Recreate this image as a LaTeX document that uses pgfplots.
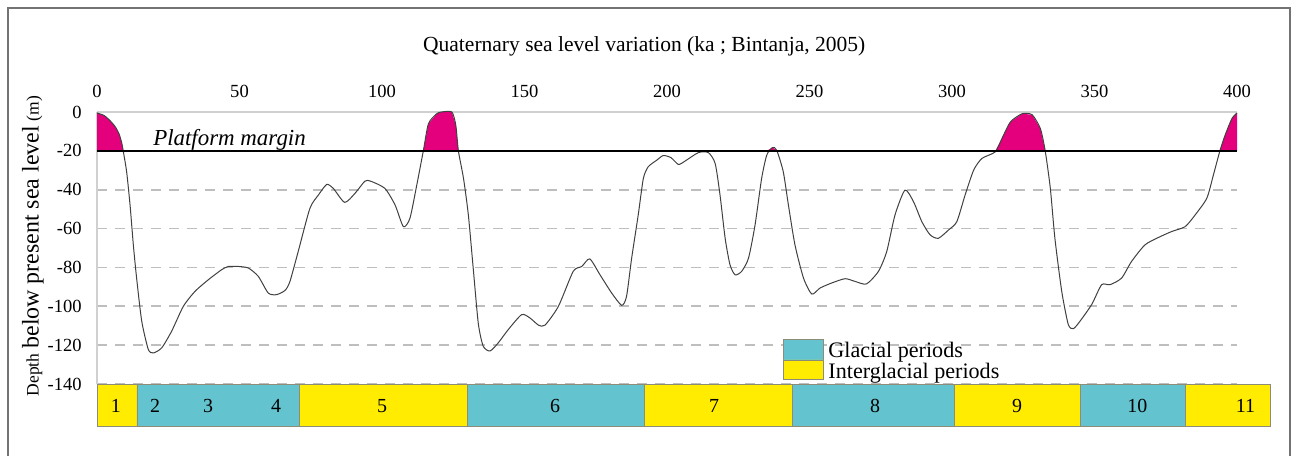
\documentclass[border=0pt]{standalone}
\usepackage{fontspec}
\setmainfont{Liberation Serif}
\usepackage{pgfplots}
\usepackage{pgfplotstable}
\pgfplotsset{compat=1.18}

\definecolor{magentac}{RGB}{228,0,124}
\definecolor{cyanc}{RGB}{99,195,207}
\definecolor{yellowc}{RGB}{255,236,0}
\definecolor{gridc}{RGB}{190,190,190}
\definecolor{axisc}{RGB}{208,208,208}
\definecolor{edgec}{RGB}{140,140,120}

% sea level (m) against age (ka), read off Bintanja (2005) curve
\pgfplotstableread{
ka m
0 -0.5
2.5 -1.8
4.6 -4.5
6.5 -7.8
7.8 -11.5
8.7 -16
9.2 -20
10.4 -30.8
11.6 -47.9
12.75 -68.4
13.9 -85.5
15.7 -107.7
18.0 -122.2
19.8 -124
22.7 -121.4
26.2 -112.8
30.3 -100
34.4 -92.3
39.1 -86.3
43.7 -81.2
46.1 -79.5
49.6 -79.5
53.1 -80.3
56.6 -84.6
60.1 -93.2
63.0 -94
66.0 -91.8
67.7 -87.2
70.6 -71.8
74.7 -49.6
77.7 -42.7
80.6 -37.3
82.9 -39.3
86.9 -46.5
90.5 -41.9
94.0 -35.6
96.0 -35.6
101.0 -39.3
104.6 -47.9
107.5 -59
109.8 -54.7
112.2 -37.6
114.5 -20
116.3 -6
119.2 -0.9
120.9 0
124.5 0
125.9 -6.8
126.8 -20
128.6 -34.2
130.3 -53
132.1 -82
133.8 -109
135.5 -120.5
137.9 -123
140.8 -118.8
144.3 -112
149.0 -104.3
151.9 -106
154.9 -109.7
157.2 -109.7
161.9 -100
167.1 -82
170.1 -79.5
172.9 -75.6
176.5 -83.8
180.6 -93.2
184.1 -99.5
185.8 -94.9
187.6 -75.2
189.9 -53
191.7 -34.2
193.4 -28.2
196.4 -24.8
198.7 -22.4
201.4 -23.5
204.0 -27
206.3 -25.3
211.0 -20.9
214.5 -20.9
216.9 -26.5
218.6 -42.7
220.4 -65
222.1 -78.6
223.9 -83.8
226.2 -82
228.6 -75.2
230.9 -58.1
233.2 -34.2
235.0 -22.2
237.0 -18.3
238.5 -19.7
240.8 -30.8
242.6 -47.9
244.9 -68.4
247.9 -85.5
250.8 -93.7
253.7 -90.6
257.8 -88
262.5 -85.8
266.0 -87.2
270.0 -88.5
274.2 -82
277.1 -71.8
280.0 -53
283.5 -40.2
286.5 -46.2
289.4 -56.4
292.3 -63.2
295.2 -65
298.8 -60.7
301.7 -56.4
304.6 -42.7
307.6 -29.9
310.5 -23.9
315.2 -20.5
317.5 -13.7
320.5 -5.1
324.6 -0.9
328.1 -1.4
331.0 -8.5
332.7 -20
334.5 -39.3
336.1 -65
338.5 -92.3
340.8 -109.4
342.6 -111.5
344.9 -107.7
349.0 -99.1
352.5 -88.9
355.4 -88.9
359.5 -85.5
363.0 -76.9
367.7 -68.4
372.4 -64.6
377.1 -61.5
381.8 -59
385.3 -53
389.4 -44.4
391.7 -32.5
394.0 -20
395.8 -12
398.2 -3.4
400 -0.5
}\sealevel

\begin{document}
\begin{tikzpicture}
\path (-48.5bp,56bp) rectangle (597.5bp,-172bp);
\draw[black!55, line width=1bp] (-44.5bp,-172bp) -- (-44.5bp,52bp) -- (596.5bp,52bp) -- (596.5bp,-172bp);
\begin{axis}[
  at={(0,0)}, anchor=north west,
  scale only axis, width=570bp, height=136bp,
  xmin=0, xmax=400, ymin=-140, ymax=0,
  clip=false,
  axis x line=top, axis y line=left,
  axis line style={-, draw=axisc, line width=1bp},
  major tick length=0pt,
  xtick={0,50,...,400},
  xticklabels={0,50,100,150,200,250,300,350,400},
  ytick={-140,-120,...,0},
  yticklabels={-140,-120,-100,-80,-60,-40,-20,0},
  ymajorgrids,
  grid style={gridc, line width=0.9bp, dash pattern=on 5bp off 4bp},
  tick label style={font=\fontsize{9.3}{10}\selectfont},
  xticklabel style={anchor=base, inner sep=0pt, yshift=7bp},
  yticklabel style={anchor=east, inner sep=0pt, xshift=-7.5bp},
]
% highstands above the platform margin (-20 m)
\addplot[fill=magentac, draw=none, y filter/.expression={max(y,-20)}] table[x=ka, y=m] {\sealevel}
  -- (axis cs:400,-20) -- (axis cs:0,-20) -- cycle;
\addplot[black!75, line width=0.5bp, smooth, tension=0.4] table[x=ka, y=m] {\sealevel};
\addplot[black, line width=0.9bp] coordinates {(0,-20) (400,-20)};

% marine isotope stages
\addplot[fill=yellowc, draw=edgec, line width=0.4bp] coordinates {(0,-140) (14,-140) (14,-161.6) (0,-161.6) (0,-140)};
\addplot[fill=cyanc, draw=edgec, line width=0.4bp] coordinates {(14,-140) (71,-140) (71,-161.6) (14,-161.6) (14,-140)};
\addplot[fill=yellowc, draw=edgec, line width=0.4bp] coordinates {(71,-140) (130,-140) (130,-161.6) (71,-161.6) (71,-140)};
\addplot[fill=cyanc, draw=edgec, line width=0.4bp] coordinates {(130,-140) (192,-140) (192,-161.6) (130,-161.6) (130,-140)};
\addplot[fill=yellowc, draw=edgec, line width=0.4bp] coordinates {(192,-140) (244,-140) (244,-161.6) (192,-161.6) (192,-140)};
\addplot[fill=cyanc, draw=edgec, line width=0.4bp] coordinates {(244,-140) (301,-140) (301,-161.6) (244,-161.6) (244,-140)};
\addplot[fill=yellowc, draw=edgec, line width=0.4bp] coordinates {(301,-140) (345,-140) (345,-161.6) (301,-161.6) (301,-140)};
\addplot[fill=cyanc, draw=edgec, line width=0.4bp] coordinates {(345,-140) (382,-140) (382,-161.6) (345,-161.6) (345,-140)};
\addplot[fill=yellowc, draw=edgec, line width=0.4bp] coordinates {(382,-140) (411.6,-140) (411.6,-161.6) (382,-161.6) (382,-140)};
\begin{scope}[every node/.style={font=\fontsize{10}{12}\selectfont, inner sep=0pt}]
\node at (axis cs:6.6,-151.3) {1};
\node at (axis cs:20.4,-151.3) {2};
\node at (axis cs:39,-151.3) {3};
\node at (axis cs:62.8,-151.3) {4};
\node at (axis cs:100,-151.3) {5};
\node at (axis cs:160.7,-151.3) {6};
\node at (axis cs:216.5,-151.3) {7};
\node at (axis cs:273,-151.3) {8};
\node at (axis cs:322.8,-151.3) {9};
\node at (axis cs:365,-151.3) {10};
\node at (axis cs:403,-151.3) {11};
\end{scope}

% legend
\addplot[fill=cyanc, draw=edgec, line width=0.4bp] coordinates {(240.7,-117.3) (254.7,-117.3) (254.7,-127.6) (240.7,-127.6) (240.7,-117.3)};
\addplot[fill=yellowc, draw=edgec, line width=0.4bp] coordinates {(240.7,-127.6) (254.7,-127.6) (254.7,-137.4) (240.7,-137.4) (240.7,-127.6)};
\node[anchor=base west, inner sep=0pt, font=\fontsize{11.1}{12}\selectfont] at (axis cs:256.5,-126.6) {Glacial periods};
\node[anchor=base west, inner sep=0pt, font=\fontsize{11.1}{12}\selectfont] at (axis cs:256.5,-137.4) {Interglacial periods};

\node[anchor=base west, inner sep=0pt, font=\fontsize{11.5}{13}\selectfont\itshape] at (axis cs:19.6,-17.5) {Platform margin};
\node[font=\fontsize{10.8}{12}\selectfont] at (axis cs:192,34) {Quaternary sea level variation (ka ; Bintanja, 2005)};
\node[rotate=90, inner sep=0pt] at (axis cs:-22.5,-69) {{\fontsize{8.8}{10}\selectfont Depth} {\fontsize{12}{14}\selectfont below present sea level} {\fontsize{8.8}{10}\selectfont(m)}};
\end{axis}
\end{tikzpicture}
\end{document}
